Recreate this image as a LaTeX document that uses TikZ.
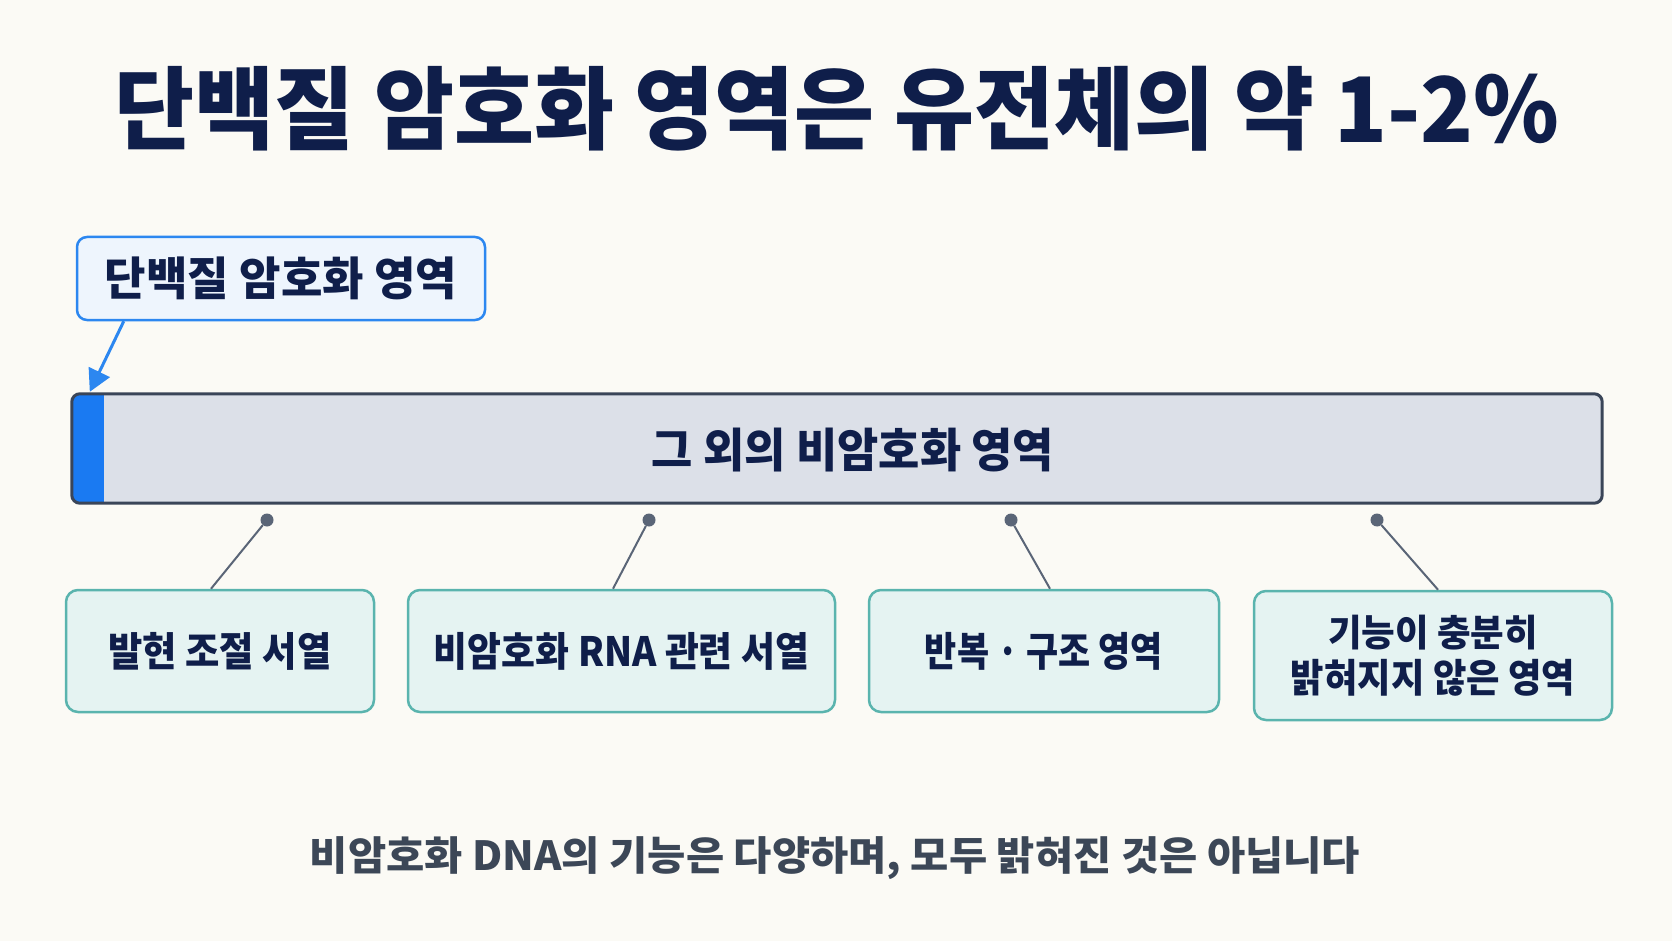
\documentclass[tikz,border=0pt]{standalone}
\usepackage{fontspec}
\usepackage{graphicx}
\setmainfont{Noto Sans CJK KR}
\usetikzlibrary{arrows.meta}
\definecolor{bg}{HTML}{FBFAF5}
\definecolor{navy}{HTML}{0F1E4A}
\definecolor{slate}{HTML}{3C4757}
\definecolor{barfill}{HTML}{DCE0E8}
\definecolor{barline}{HTML}{3A4558}
\definecolor{blueseg}{HTML}{1A7AF2}
\definecolor{callfill}{HTML}{EEF5FD}
\definecolor{callline}{HTML}{2C87F0}
\definecolor{tealfill}{HTML}{E5F3F2}
\definecolor{tealline}{HTML}{5AB4AE}
\definecolor{dotc}{HTML}{5A6577}
\newcommand{\fitt}[3]{\resizebox*{#1pt}{#2pt}{\bfseries #3}}
\begin{document}
\begin{tikzpicture}[x=1pt,y=-1pt,
  txt/.style={inner sep=0pt, text=navy},
  callbox/.style={draw=callline, fill=callfill, line width=2.5pt, rounded corners=10pt, inner sep=0pt, text=navy},
  barbox/.style={fill=barfill, rounded corners=8pt, inner sep=0pt},
  itembox/.style={draw=tealline, fill=tealfill, line width=2.5pt, rounded corners=12pt, inner sep=0pt, text=navy},
  dotnode/.style={circle, fill=dotc, minimum size=13pt, inner sep=0pt},
  link/.style={draw=dotc, line width=2pt},
  callarrow/.style={draw=callline, line width=3pt, -{Triangle[length=22pt,width=23pt]}}]
\fill[bg] (0,0) rectangle (1672,941);
\useasboundingbox (0,0) rectangle (1672,941);
% title
\node[txt] (title) at (837,108.5) {\fitt{1444}{85}{단백질 암호화 영역은 유전체의 약 1-2\%}};
% callout
\node[callbox, minimum width=408pt, minimum height=83pt] (call) at (281,278.5) {\fitt{352}{43}{단백질 암호화 영역}};
% bar
\node[barbox, minimum width=1530pt, minimum height=109pt] (bar) at (837,448.5) {};
\begin{scope}
  \clip[rounded corners=8pt] (bar.south west) rectangle (bar.north east);
  \fill[blueseg] (bar.north west) rectangle ([xshift=32pt]bar.south west);
\end{scope}
\coordinate (coding) at ([xshift=18pt]bar.north west);
\draw[barline, line width=3pt, rounded corners=8pt] (bar.south west) rectangle (bar.north east);
\node[txt] (other) at (853,450) {\fitt{402}{44}{그 외의 비암호화 영역}};
\draw[callarrow] ([xshift=48pt]call.south west) -- ([yshift=2pt]coding);
% dots
\node[dotnode] (d1) at (267,520) {};
\node[dotnode] (d2) at (649,520) {};
\node[dotnode] (d3) at (1011,520) {};
\node[dotnode] (d4) at (1377,520) {};
% boxes
\node[itembox, minimum width=308pt, minimum height=122pt] (b1) at (220,651) {\fitt{223}{38}{발현 조절 서열}};
\node[itembox, minimum width=427pt, minimum height=122pt] (b2) at (621.5,651) {\fitt{375}{38}{비암호화 RNA 관련 서열}};
\node[itembox, minimum width=350pt, minimum height=122pt] (b3) at (1044,651) {\fitt{238}{38}{반복 · 구조 영역}};
\node[itembox, minimum width=358pt, minimum height=129pt] (b4) at (1433,655.5) {\begin{tabular}{@{}c@{}}\fitt{210}{35}{기능이 충분히}\\[9pt]\fitt{284}{37}{밝혀지지 않은 영역}\end{tabular}};
\draw[link] (d1) -- ([xshift=-9pt]b1.north);
\draw[link] (d2) -- ([xshift=-8.5pt]b2.north);
\draw[link] (d3) -- ([xshift=6pt]b3.north);
\draw[link] (d4) -- ([xshift=5pt]b4.north);
% footer
\node[txt, text=slate] (foot) at (835,858.5) {\fitt{1050}{43}{비암호화 DNA의 기능은 다양하며, 모두 밝혀진 것은 아닙니다}};
\end{tikzpicture}
\end{document}
